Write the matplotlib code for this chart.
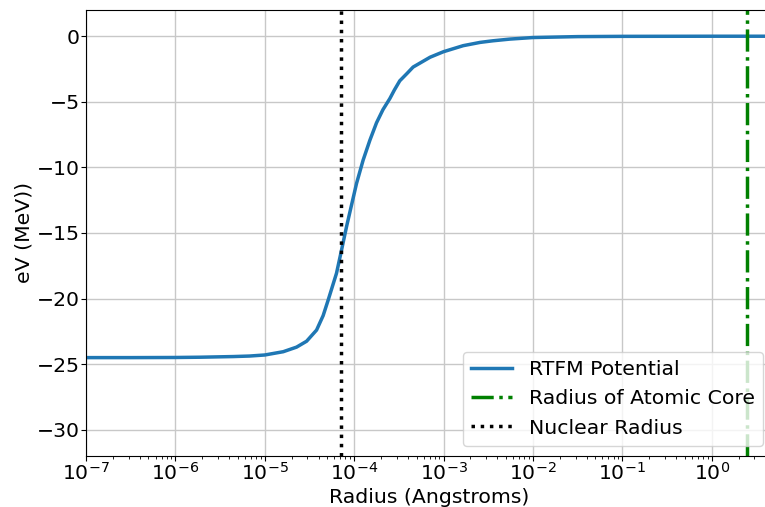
import matplotlib
matplotlib.use("Agg")
import matplotlib.pyplot as plt

# RTFM potential (radius in Angstroms, energy in MeV)
radius = [1e-7, 3.16e-7, 1e-6, 1.88e-6, 4.44e-6, 6.76e-6, 1e-5, 1.61e-5,
          2.27e-5, 2.94e-5, 3.8e-5, 4.5e-5, 5.13e-5, 6.35e-5, 7.23e-5,
          8.22e-5, 9.35e-5, 1.064e-4, 1.26e-4, 1.5e-4, 1.78e-4, 2.1e-4,
          2.51e-4, 2.82e-4, 3.24e-4, 3.89e-4, 4.57e-4, 7.08e-4, 1e-3,
          1.66e-3, 2.57e-3, 3.55e-3, 5.5e-3, 1e-2, 3.16e-2, 1e-1, 1.0, 5.0]
energy = [-24.5, -24.5, -24.49, -24.47, -24.42, -24.38, -24.3, -24.05,
          -23.7, -23.25, -22.4, -21.3, -20.1, -18.07, -16.3,
          -14.52, -12.87, -11.22, -9.45, -7.93, -6.6, -5.6,
          -4.75, -4.1, -3.4, -2.85, -2.35, -1.6, -1.18,
          -0.72, -0.47, -0.35, -0.22, -0.1, -0.03, -0.01, 0.0, 0.0]

nuclear_radius = 7.11e-5
core_radius = 2.46

fs = 14.7

fig = plt.figure(figsize=(7.65, 5.07), dpi=100)
# the axes run a little past the right edge, as in the reference
ax = fig.add_axes([0.1124, 0.1006, 0.898, 0.8797])

ax.plot(radius, energy, color="C0", lw=2.5, label="RTFM Potential")
ax.axvline(core_radius, color="g", ls="-.", lw=2.5, label="Radius of Atomic Core")
ax.axvline(nuclear_radius, color="k", ls=":", lw=2.5, label="Nuclear Radius")

ax.set_xscale("log")
ax.set_xlim(1e-7, 4.85)
ax.set_ylim(-32, 2)
ax.grid(True, color="#c8c8c8", lw=1)
ax.tick_params(labelsize=fs, pad=1)
ax.set_xlabel("Radius (Angstroms)", fontsize=fs)
ax.set_ylabel("eV (MeV))", fontsize=fs)
ax.xaxis.set_label_coords(0.5, -0.072)
ax.yaxis.set_label_coords(-0.077, 0.5)
ax.legend(loc="lower right", fontsize=fs)

fig.savefig("out.png", dpi=100)
